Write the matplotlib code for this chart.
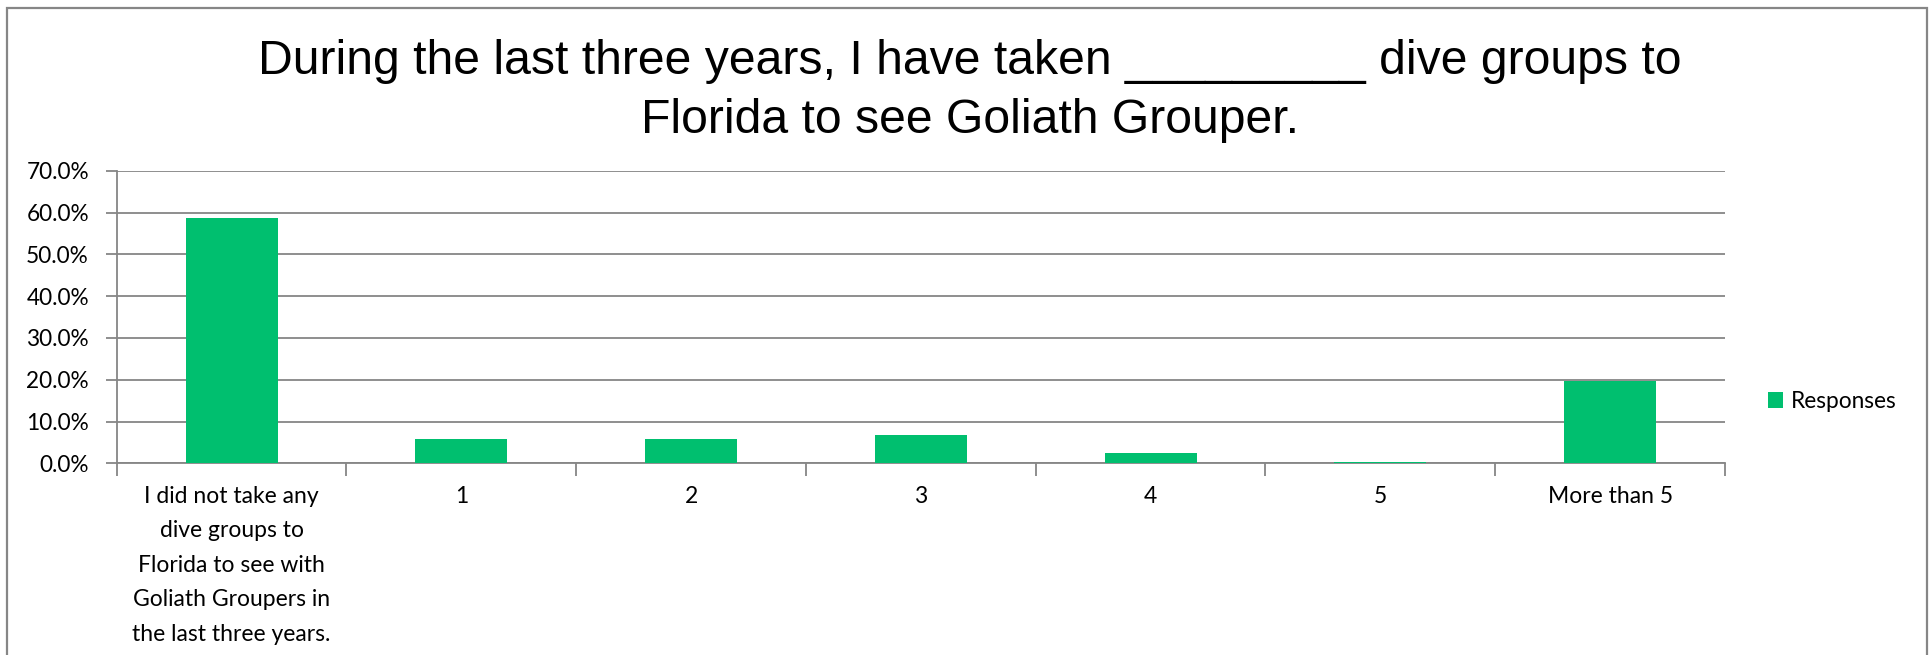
import numpy as np
import matplotlib
matplotlib.use("Agg")
import matplotlib.pyplot as plt
from matplotlib.patches import Rectangle

# data
categories = ["I did not take any\ndive groups to\nFlorida to see with\nGoliath Groupers in\nthe last three years.",
              "1", "2", "3", "4", "5", "More than 5"]
responses = [58.8, 5.7, 5.7, 6.8, 2.5, 0.3, 19.8]
yticks = [0, 10, 20, 30, 40, 50, 60, 70]
title = "During the last three years, I have taken _________ dive groups to\nFlorida to see Goliath Grouper."
series_name = "Responses"

green = "#00BF6F"
grey = "#868686"
W, H = 1933, 655

plt.rcParams["font.family"] = ["Lato", "DejaVu Sans"]

fig = plt.figure(figsize=(W / 100, H / 100), dpi=100)
ax = fig.add_axes([116.7 / W, 1 - 463.3 / H, (1725 - 116.7) / W, (463.3 - 170.7) / H])

x = np.arange(len(categories))
ax.bar(x, responses, width=0.4, color=green, zorder=3, label=series_name)

ax.set_xlim(-0.5, len(categories) - 0.5)
ax.set_ylim(0, 70)
ax.set_yticks(yticks)
ax.set_yticklabels([f"{v:.1f}%" for v in yticks])
ax.yaxis.grid(True, color=grey, linewidth=1.3, zorder=0)

# category boundary ticks, labels centred on the bars
ax.set_xticks(np.arange(-0.5, len(categories), 1))
ax.set_xticklabels([])
ax.set_xticks(x, minor=True)
ax.set_xticklabels(categories, minor=True, fontsize=16.5, linespacing=1.8)
ax.tick_params(axis="x", which="major", length=9, width=1.3, color=grey)
ax.tick_params(axis="x", which="minor", length=0, pad=16)
ax.tick_params(axis="y", length=8, width=1.3, color=grey, labelsize=16.3, pad=12)

for s in ["top", "right"]:
    ax.spines[s].set_visible(False)
for s in ["left", "bottom"]:
    ax.spines[s].set_color(grey)
    ax.spines[s].set_linewidth(1.3)

fig.text(970 / W, 1 - 39 / H, title, ha="center", va="top", fontsize=34.7,
         family=["Liberation Sans", "DejaVu Sans"], linespacing=1.4)

ax.legend(loc="center left", bbox_to_anchor=(1767.6 / W, 1 - 401.5 / H),
          bbox_transform=fig.transFigure, frameon=False, fontsize=16.3,
          handlelength=0.68, handleheight=0.68, handletextpad=0.35,
          borderpad=0, borderaxespad=0)

# outer chart border
fig.patches.append(Rectangle((7.5 / W, -0.05), (1927.5 - 7.5) / W, 1.05 - 7.5 / H,
                             transform=fig.transFigure, fill=False,
                             edgecolor=grey, linewidth=1.6))

fig.savefig("out.png", dpi=100)
